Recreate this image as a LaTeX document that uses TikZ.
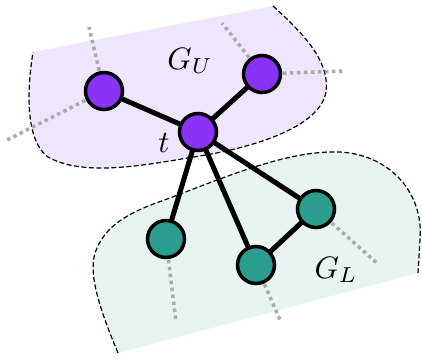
\documentclass[tikz,border=0pt]{standalone}
\usepackage{graphicx}
\usetikzlibrary{backgrounds}
\definecolor{pnode}{RGB}{138,50,245}
\definecolor{gnode}{RGB}{42,157,143}
\definecolor{pfill}{RGB}{239,229,253}
\definecolor{gfill}{RGB}{232,244,242}
\definecolor{dotgray}{RGB}{170,170,170}
\tikzset{
  vert/.style={circle, draw=black, line width=3.5pt, minimum size=37pt, inner sep=0pt},
  pv/.style={vert, fill=pnode},
  gv/.style={vert, fill=gnode},
  edge/.style={line width=5pt},
  stub/.style={draw=dotgray, line width=3.5pt, dash pattern=on 3.5pt off 3.5pt},
  region/.style={dashed, line width=1.2pt, dash pattern=on 5pt off 2.5pt},
  lbl/.style={inner sep=0pt}
}
\newcommand{\biglbl}[1]{\scalebox{3.1}{#1}}
\begin{document}
\begin{tikzpicture}[x=1pt,y=-1pt]
\useasboundingbox (0,0) rectangle (422,358);
% nodes
\node[pv] (ul) at (104,91) {};
\node[pv] (ur) at (262,74) {};
\node[pv] (t) at (198,132) {};
\node[gv] (gl) at (166,239) {};
\node[gv] (gm) at (256,265) {};
\node[gv] (gr) at (316,209) {};
\node[lbl] (lu) at (190,61) {\biglbl{$G_U$}};
\node[lbl] (lt) at (164,143) {\biglbl{$t$}};
\node[lbl] (ll) at (336,270) {\biglbl{$G_L$}};
\coordinate (s1) at (89,27);
\coordinate (s2) at (7,140);
\coordinate (s3) at (222,23);
\coordinate (s4) at (345,71);
\coordinate (s5) at (176,322);
\coordinate (s6) at (281,322);
\coordinate (s7) at (378,264);
\begin{scope}[on background layer]
  % upper region
  \fill[pfill] (33,52) -- (273,6) .. controls (305,35) and (330,62) .. (326,92)
     .. controls (320,128) and (250,148) .. (200,156)
     .. controls (150,164) and (85,178) .. (48,157)
     .. controls (25,140) and (27,90) .. (33,52) -- cycle;
  \draw[region] (273,6) .. controls (305,35) and (330,62) .. (326,92)
     .. controls (320,128) and (250,148) .. (200,156)
     .. controls (150,164) and (85,178) .. (48,157)
     .. controls (25,140) and (27,90) .. (33,52);
  % lower region
  \fill[gfill] (118,353) .. controls (100,310) and (86,270) .. (97,248)
     .. controls (108,222) and (135,210) .. (170,198)
     .. controls (230,175) and (290,150) .. (340,152)
     .. controls (392,155) and (424,195) .. (420,240) -- (418,273) -- cycle;
  \draw[region] (118,353) .. controls (100,310) and (86,270) .. (97,248)
     .. controls (108,222) and (135,210) .. (170,198)
     .. controls (230,175) and (290,150) .. (340,152)
     .. controls (392,155) and (424,195) .. (420,240) -- (418,273);
  % stubs
  \draw[stub] (ul.center) -- (s1);
  \draw[stub] (ul.center) -- (s2);
  \draw[stub] (ur.center) -- (s3);
  \draw[stub] (ur.center) -- (s4);
  \draw[stub] (gl.center) -- (s5);
  \draw[stub] (gm.center) -- (s6);
  \draw[stub] (gr.center) -- (s7);
  % edges
  \draw[edge] (t.center) -- (ul.center);
  \draw[edge] (t.center) -- (ur.center);
  \draw[edge] (t.center) -- (gl.center);
  \draw[edge] (t.center) -- (gm.center);
  \draw[edge] (t.center) -- (gr.center);
  \draw[edge] (gm.center) -- (gr.center);
\end{scope}
\end{tikzpicture}
\end{document}
